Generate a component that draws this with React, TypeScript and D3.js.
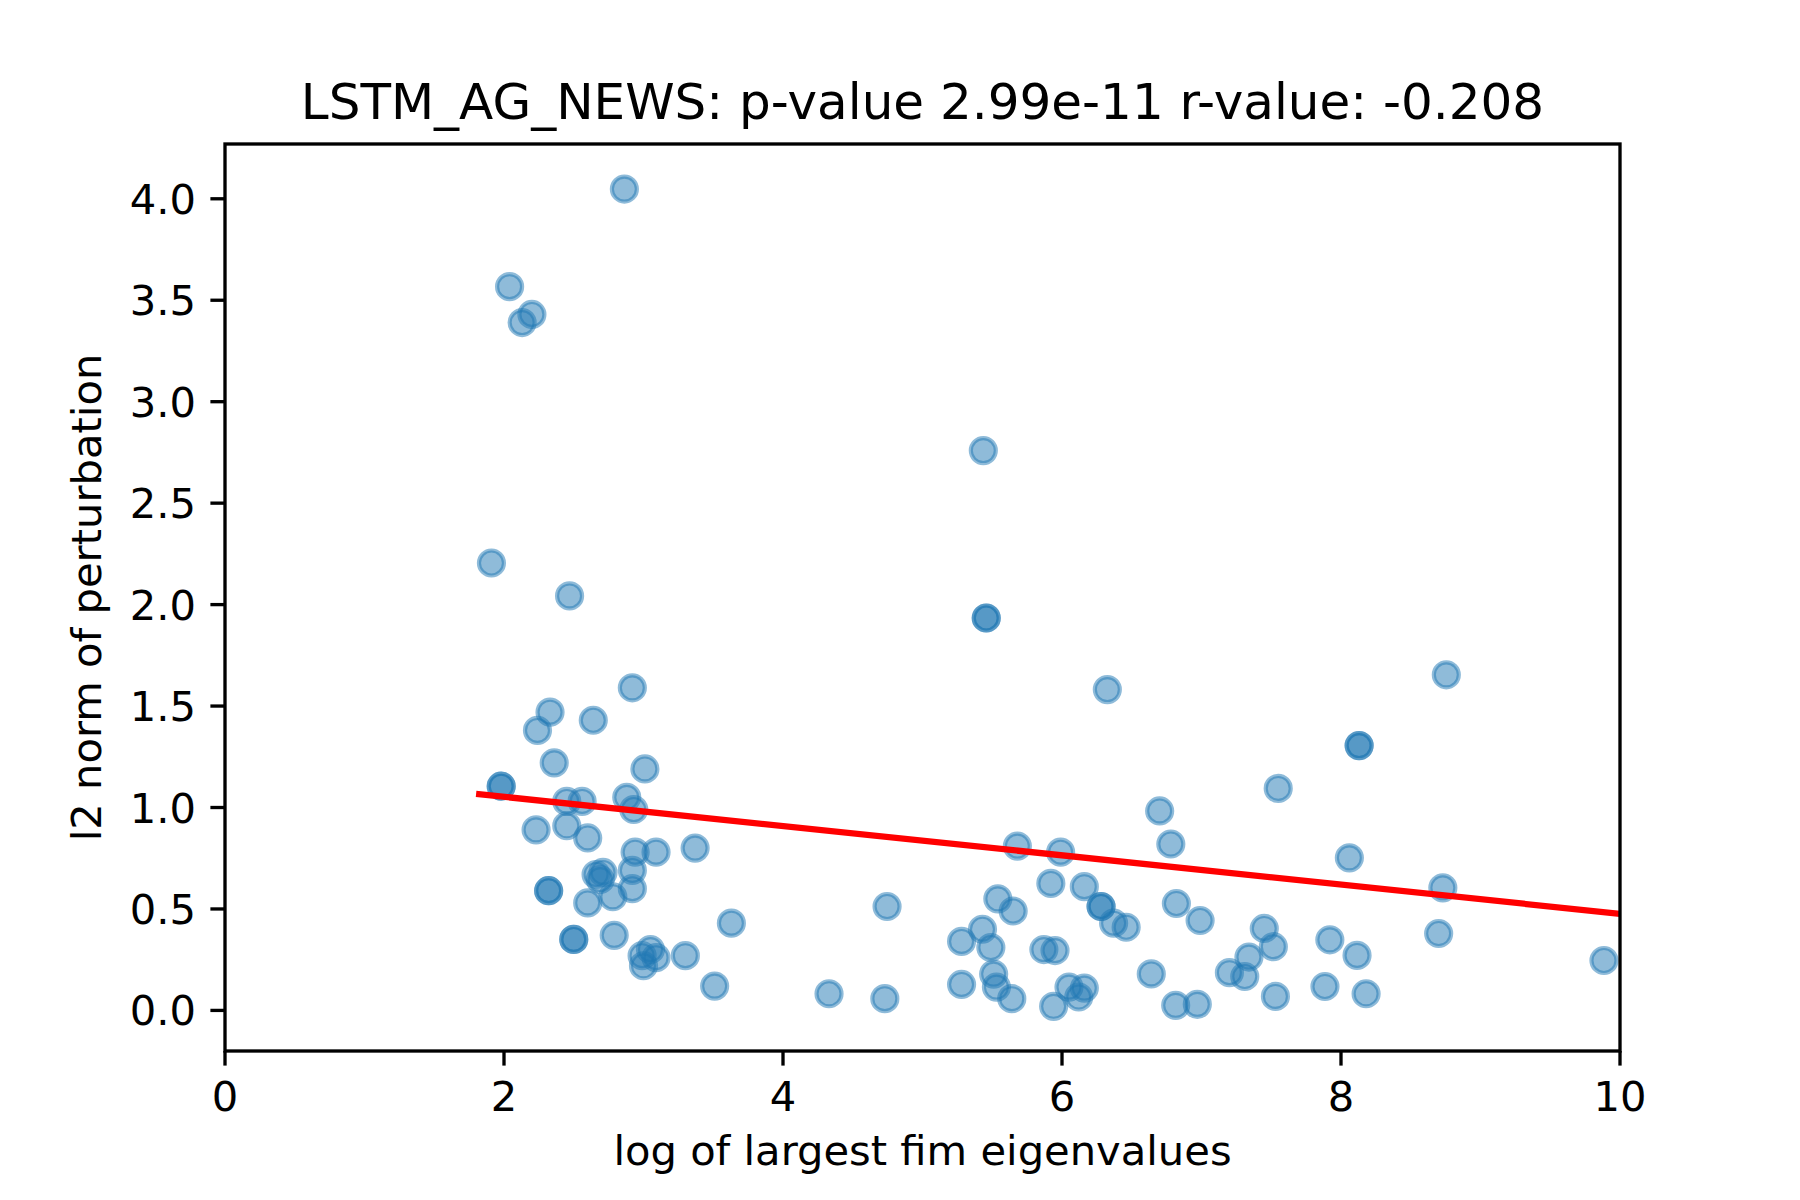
import React from 'react'
import * as d3 from 'd3'

// scatter values (duplicates are overlapping points)
const eigLog = [
  2.863, 2.04, 2.13, 2.2, 1.91, 2.47, 2.92, 2.33, 2.24, 2.64, 2.36, 3.01,
  1.98, 1.98, 2.45, 2.56, 2.88, 2.93, 2.23, 2.45, 2.6, 2.94, 3.09, 3.37,
  2.66, 2.71, 2.69, 2.92, 2.32, 2.32, 2.92, 2.78, 2.6, 3.63, 2.5, 2.5,
  2.79, 2.99, 3.05, 3.09, 3.0, 3.3, 3.51,
  4.33, 4.73, 4.746, 5.436, 5.457, 5.457, 6.325, 5.68, 5.99, 6.78, 6.7,
  5.54, 5.65, 5.92, 6.16, 6.28, 6.28, 6.37, 6.46, 6.82, 6.99, 5.43, 5.28,
  5.49, 5.87, 5.95, 5.28, 5.51, 5.53, 5.64, 5.94, 6.05, 6.16, 6.12, 6.64,
  6.815, 6.97,
  7.2, 7.31, 7.34, 7.45, 7.515, 7.53, 7.55, 8.06, 8.73, 7.92, 8.115, 7.885,
  8.18, 8.7, 9.885, 8.755, 8.13, 8.13,
]
const l2Norm = [
  4.048, 3.567, 3.39, 3.43, 2.205, 2.043, 1.59, 1.47, 1.38, 1.43, 1.22, 1.19,
  1.105, 1.105, 1.03, 1.03, 1.05, 0.99, 0.89, 0.91, 0.85, 0.78, 0.78, 0.8,
  0.67, 0.68, 0.645, 0.69, 0.59, 0.59, 0.6, 0.56, 0.53, 0.43, 0.35, 0.35,
  0.37, 0.27, 0.3, 0.26, 0.22, 0.27, 0.12,
  0.082, 0.058, 0.512, 2.759, 1.934, 1.934, 1.581, 0.81, 0.78, 0.82, 0.983,
  0.55, 0.49, 0.626, 0.61, 0.512, 0.512, 0.43, 0.41, 0.527, 0.443, 0.4, 0.34,
  0.31, 0.3, 0.295, 0.128, 0.179, 0.115, 0.058, 0.02, 0.115, 0.11, 0.066, 0.18,
  0.025, 0.03,
  0.186, 0.167, 0.263, 0.404, 0.314, 0.069, 1.094, 0.752, 0.604, 0.348, 0.271, 0.118,
  0.082, 0.379, 0.246, 1.654, 1.305, 1.305,
]

// regression line end points
const fitX = [1.8, 10.0]
const fitY = [1.067, 0.476]

const xTicks = [0, 2, 4, 6, 8, 10]
const yTicks = [0, 0.5, 1, 1.5, 2, 2.5, 3, 3.5, 4]

const W = 1800
const H = 1200
const left = 225
const right = 1620
const top = 144
const bottom = 1051
const font = '"DejaVu Sans", sans-serif'

export default function App() {
  const x = d3.scaleLinear().domain([0, 10]).range([left, right])
  const y = d3.scaleLinear().domain([-0.2, 4.27]).range([bottom, top])

  const points = eigLog.map((v, i) => ({ x: v, y: l2Norm[i] }))
  const fit = fitX.map((v, i) => [v, fitY[i]] as [number, number])
  const line = d3.line<[number, number]>()
    .x(d => x(d[0]))
    .y(d => y(d[1]))

  const tickLen = 14.6
  const sw = 3.33

  return (
    <svg
      width={W}
      height={H}
      style={{ position: 'absolute', left: 0, top: 0, background: '#fff' }}
      fontFamily={font}
    >
      <defs>
        <clipPath id="plot">
          <rect x={left} y={top} width={right - left} height={bottom - top} />
        </clipPath>
      </defs>

      {/* scatter */}
      <g clipPath="url(#plot)">
        {points.map((p, i) => (
          <circle
            key={i}
            cx={x(p.x)}
            cy={y(p.y)}
            r={12.5}
            fill="#1f77b4"
            fillOpacity={0.5}
            stroke="#1f77b4"
            strokeOpacity={0.5}
            strokeWidth={4.17}
          />
        ))}
        <path d={line(fit) || ''} fill="none" stroke="red" strokeWidth={6.25} />
      </g>

      {/* spines */}
      <rect
        x={left}
        y={top}
        width={right - left}
        height={bottom - top}
        fill="none"
        stroke="#000"
        strokeWidth={sw}
      />

      {/* x axis */}
      {xTicks.map(t => (
        <g key={'x' + t}>
          <line x1={x(t)} x2={x(t)} y1={bottom} y2={bottom + tickLen} stroke="#000" strokeWidth={sw} />
          <text x={x(t)} y={1111} textAnchor="middle" fontSize={41.67}>
            {t}
          </text>
        </g>
      ))}

      {/* y axis */}
      {yTicks.map(t => (
        <g key={'y' + t}>
          <line x1={left - tickLen} x2={left} y1={y(t)} y2={y(t)} stroke="#000" strokeWidth={sw} />
          <text x={196} y={y(t) + 15} textAnchor="end" fontSize={41.67}>
            {d3.format('.1f')(t)}
          </text>
        </g>
      ))}

      <text x={(left + right) / 2} y={1165} textAnchor="middle" fontSize={41.67}>
        log of largest fim eigenvalues
      </text>
      <text
        transform={`translate(101,${(top + bottom) / 2}) rotate(-90)`}
        textAnchor="middle"
        fontSize={41.67}
      >
        l2 norm of perturbation
      </text>
      <text x={(left + right) / 2} y={119} textAnchor="middle" fontSize={50}>
        LSTM_AG_NEWS: p-value 2.99e-11 r-value: -0.208
      </text>
    </svg>
  )
}
